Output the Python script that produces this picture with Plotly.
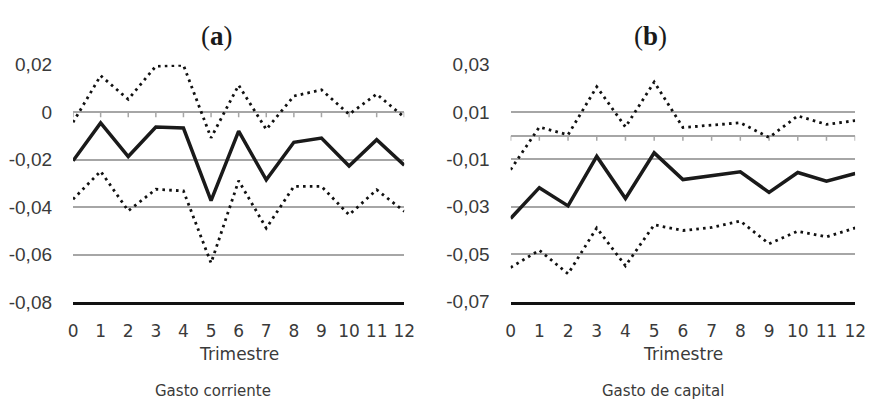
import plotly.graph_objects as go

# Quarters after the shock
trimestres = list(range(13))

# (a) Gasto corriente: central response and confidence bands
a_central = [-0.0205, -0.0045, -0.0187, -0.0063, -0.0067, -0.0373, -0.0080,
             -0.0285, -0.0127, -0.0109, -0.0227, -0.0116, -0.0224]
a_superior = [-0.0043, 0.0154, 0.0054, 0.0194, 0.0198, -0.0108, 0.0114,
              -0.0073, 0.0068, 0.0094, -0.0009, 0.0076, -0.0021]
a_inferior = [-0.0367, -0.0249, -0.0416, -0.0325, -0.0332, -0.0636, -0.0289,
              -0.0489, -0.0313, -0.0313, -0.0433, -0.0327, -0.0418]

# (b) Gasto de capital: central response and confidence bands
b_central = [-0.0349, -0.0219, -0.0296, -0.0087, -0.0265, -0.0072, -0.0185,
             -0.0169, -0.0152, -0.0239, -0.0155, -0.0192, -0.0159]
b_superior = [-0.0143, 0.0037, 0.0004, 0.0207, 0.0037, 0.0227, 0.0035,
              0.0044, 0.0055, -0.0007, 0.0084, 0.0048, 0.0064]
b_inferior = [-0.0556, -0.0483, -0.0583, -0.0389, -0.0549, -0.0376, -0.0400,
              -0.0387, -0.0360, -0.0456, -0.0403, -0.0427, -0.0389]

a_yticks = [-0.08, -0.06, -0.04, -0.02, 0.0, 0.02]
b_yticks = [-0.07, -0.05, -0.03, -0.01, 0.01, 0.03]

W, H = 877, 410
GRID = "#a6a6a6"
TEXT = "#3a3a3a"
SANS = "DejaVu Sans, Liberation Sans, sans-serif"


def fmt(v):
    if abs(v) < 1e-12:
        return "0"
    return f"{v:.2f}".replace(".", ",")


def dom_x(x0, x1):
    return [x0 / W, x1 / W]


def dom_y(top, bottom):
    return [1 - bottom / H, 1 - top / H]


xa_dom = dom_x(69.3, 406.7)
xb_dom = dom_x(515.0, 866.0)
ya_dom = dom_y(57.7, 307.7)
yb_dom = dom_y(57.7, 307.3)

fig = go.Figure()

for xa, ya, central, sup, inf in [
    ("x", "y", a_central, a_superior, a_inferior),
    ("x2", "y2", b_central, b_superior, b_inferior),
]:
    for band in (sup, inf):
        fig.add_trace(go.Scatter(
            x=trimestres, y=band, mode="lines", xaxis=xa, yaxis=ya,
            line=dict(color="#111111", width=2.8, dash="2.6px,4.2px"),
            showlegend=False, hoverinfo="skip"))
    fig.add_trace(go.Scatter(
        x=trimestres, y=central, mode="lines", xaxis=xa, yaxis=ya,
        line=dict(color="#1a1a1a", width=3.5),
        showlegend=False))

    # quarter tick marks hanging below the zero line
    for t in trimestres:
        fig.add_shape(type="line", xref=xa, yref=ya, x0=t, x1=t,
                      ysizemode="pixel", yanchor=0, y0=0, y1=-5,
                      line=dict(color=GRID, width=1.5), layer="below")

tick_font = dict(family=SANS, size=17, color=TEXT)
ytick_font = dict(family="Liberation Sans, Arial, sans-serif", size=19, color=TEXT)

xbase = dict(
    range=[0, 12], tickvals=trimestres, ticktext=[str(t) for t in trimestres],
    showgrid=False, zeroline=False, showline=True, linecolor="#111111",
    linewidth=3, ticks="", ticklabelstandoff=12, tickfont=tick_font,
)
ybase = dict(
    showgrid=True, gridcolor=GRID, gridwidth=1.5,
    zeroline=True, zerolinecolor=GRID, zerolinewidth=1.5,
    showline=False, ticks="", ticklabelstandoff=20, tickfont=ytick_font,
)

fig.update_layout(
    width=W, height=H, autosize=False,
    margin=dict(l=0, r=0, t=0, b=0),
    paper_bgcolor="white", plot_bgcolor="white",
    xaxis=dict(domain=xa_dom, anchor="y", **xbase),
    yaxis=dict(domain=ya_dom, anchor="x", range=[a_yticks[0], a_yticks[-1]],
               tickvals=a_yticks, ticktext=[fmt(v) for v in a_yticks], **ybase),
    xaxis2=dict(domain=xb_dom, anchor="y2", **xbase),
    yaxis2=dict(domain=yb_dom, anchor="x2", range=[b_yticks[0], b_yticks[-1]],
                tickvals=b_yticks, ticktext=[fmt(v) for v in b_yticks], **ybase),
)

serif = dict(family="Liberation Serif, DejaVu Serif, serif", size=27, color="#1a1a1a")
label = dict(family=SANS, size=17, color=TEXT)
small = dict(family=SANS, size=15, color=TEXT)

for cx, title in [(216, "(<b>a</b>)"), (658, "(<b>b</b>)")]:
    fig.add_annotation(x=cx / W, y=1 - 27 / H, xref="paper", yref="paper",
                       text=title, showarrow=False, font=serif,
                       xanchor="center", yanchor="middle")
for dom in (xa_dom, xb_dom):
    fig.add_annotation(x=sum(dom) / 2, y=1 - 363 / H, xref="paper", yref="paper",
                       text="Trimestre", showarrow=False, font=label,
                       xanchor="center", yanchor="middle")
for cx, caption in [(212, "Gasto corriente"), (670, "Gasto de capital")]:
    fig.add_annotation(x=cx / W, y=1 - 402 / H, xref="paper", yref="paper",
                       text=caption, showarrow=False, font=small,
                       xanchor="center", yanchor="middle")

fig.write_html("out.html")
